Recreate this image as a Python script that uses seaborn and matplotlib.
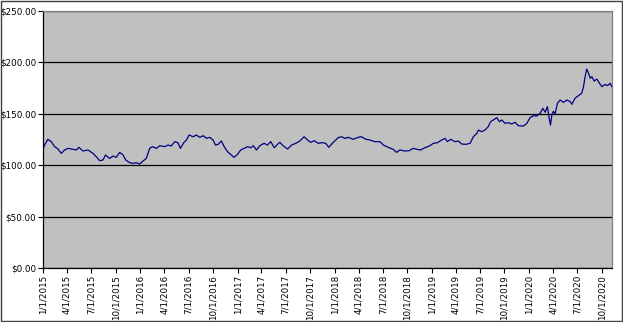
import matplotlib
matplotlib.use("Agg")
import matplotlib.pyplot as plt
import matplotlib.dates as mdates
from matplotlib.ticker import FuncFormatter
from matplotlib.patches import Rectangle
import seaborn as sns
import pandas as pd

dates = [
    "2015-01-01", "2015-01-07", "2015-01-19", "2015-02-01", "2015-02-14", "2015-02-26",
    "2015-03-11", "2015-03-23", "2015-04-05", "2015-04-24", "2015-05-06", "2015-05-16",
    "2015-05-31", "2015-06-19", "2015-07-08", "2015-07-20", "2015-08-02", "2015-08-14",
    "2015-08-24", "2015-09-08", "2015-09-21", "2015-10-03", "2015-10-16", "2015-10-29",
    "2015-11-08", "2015-11-23", "2015-12-05", "2015-12-18", "2015-12-30", "2016-01-12",
    "2016-01-24", "2016-02-06", "2016-02-16", "2016-03-02", "2016-03-15", "2016-04-02",
    "2016-04-15", "2016-04-27", "2016-05-10", "2016-05-22", "2016-05-31", "2016-06-13",
    "2016-06-23", "2016-07-03", "2016-07-18", "2016-07-30", "2016-08-12", "2016-08-25",
    "2016-09-06", "2016-09-19", "2016-10-01", "2016-10-10", "2016-10-20", "2016-11-01",
    "2016-11-12", "2016-11-24", "2016-12-09", "2016-12-19", "2017-01-01", "2017-01-13",
    "2017-01-26", "2017-02-07", "2017-02-20", "2017-03-01", "2017-03-13", "2017-03-26",
    "2017-04-11", "2017-04-23", "2017-05-06", "2017-05-19", "2017-05-31", "2017-06-09",
    "2017-06-21", "2017-07-08", "2017-07-23", "2017-08-08", "2017-08-23", "2017-09-08",
    "2017-09-21", "2017-10-03", "2017-10-16", "2017-10-31", "2017-11-15", "2017-11-28",
    "2017-12-10", "2017-12-23", "2018-01-14", "2018-01-27", "2018-02-08", "2018-02-21",
    "2018-03-12", "2018-03-30", "2018-04-12", "2018-04-25", "2018-05-13", "2018-06-01",
    "2018-06-20", "2018-07-03", "2018-07-21", "2018-08-09", "2018-08-22", "2018-09-03",
    "2018-09-22", "2018-10-08", "2018-10-23", "2018-11-07", "2018-11-20", "2018-12-06",
    "2018-12-23", "2019-01-07", "2019-01-22", "2019-02-07", "2019-02-20", "2019-02-28",
    "2019-03-13", "2019-03-29", "2019-04-11", "2019-04-23", "2019-05-10", "2019-05-25",
    "2019-06-06", "2019-06-19", "2019-06-25", "2019-07-07", "2019-07-20", "2019-08-01",
    "2019-08-10", "2019-08-20", "2019-09-02", "2019-09-12", "2019-09-21", "2019-10-03",
    "2019-10-16", "2019-10-28", "2019-11-10", "2019-11-22", "2019-12-11", "2019-12-24",
    "2020-01-05", "2020-01-18", "2020-01-30", "2020-02-12", "2020-02-22", "2020-03-02",
    "2020-03-10", "2020-03-18", "2020-03-22", "2020-03-27", "2020-04-02", "2020-04-08",
    "2020-04-17", "2020-04-27", "2020-05-10", "2020-05-22", "2020-06-04", "2020-06-10",
    "2020-06-22", "2020-07-05", "2020-07-17", "2020-07-24", "2020-07-30", "2020-08-05",
    "2020-08-12", "2020-08-18", "2020-08-24", "2020-09-02", "2020-09-12", "2020-09-22",
    "2020-10-01", "2020-10-13", "2020-10-22", "2020-11-01", "2020-11-07",
]

values = [
    116.0, 119.6, 125.2, 122.9, 118.0, 115.8,
    111.5, 114.8, 116.4, 115.4, 114.8, 117.4,
    113.8, 114.8, 111.5, 108.3, 104.4, 105.0,
    109.9, 106.6, 108.9, 107.6, 112.5, 109.9,
    105.0, 102.4, 101.8, 102.4, 101.1, 104.1,
    106.6, 116.4, 118.0, 116.4, 119.0, 118.0,
    119.6, 118.7, 122.9, 121.9, 116.4, 121.9,
    124.5, 129.4, 127.7, 129.4, 127.1, 128.7,
    126.1, 127.1, 124.5, 119.6, 120.3, 123.5,
    118.0, 113.2, 109.9, 107.6, 110.6, 114.8,
    116.4, 118.0, 117.0, 119.0, 114.8, 119.0,
    121.3, 119.6, 122.9, 117.0, 120.3, 122.2,
    119.0, 115.8, 119.6, 121.3, 123.5, 127.7,
    124.5, 122.2, 123.8, 121.3, 121.9, 121.3,
    117.4, 121.3, 126.8, 127.7, 126.1, 127.1,
    125.2, 127.1, 127.7, 125.5, 124.5, 122.9,
    122.9, 119.6, 117.4, 115.4, 112.5, 114.8,
    113.8, 114.1, 116.4, 115.4, 114.8, 117.0,
    118.7, 121.3, 121.9, 124.5, 126.1, 122.9,
    125.2, 122.9, 123.5, 120.6, 120.3, 121.3,
    127.7, 131.0, 134.2, 132.6, 134.2, 137.5,
    142.3, 144.0, 146.2, 142.3, 144.0, 140.7,
    141.4, 140.1, 141.7, 138.4, 138.1, 140.7,
    146.2, 148.2, 147.8, 150.5, 155.3, 151.5,
    157.0, 144.0, 139.1, 149.2, 152.4, 149.8,
    160.2, 163.4, 161.1, 163.4, 161.8, 159.2,
    165.1, 167.7, 169.9, 176.4, 186.1, 193.6,
    189.4, 184.5, 186.1, 181.9, 183.8, 179.7,
    176.4, 178.6, 177.4, 179.7, 176.4,
]

tick_dates = [
    "2015-01-01", "2015-04-01", "2015-07-01", "2015-10-01",
    "2016-01-01", "2016-04-01", "2016-07-01", "2016-10-01",
    "2017-01-01", "2017-04-01", "2017-07-01", "2017-10-01",
    "2018-01-01", "2018-04-01", "2018-07-01", "2018-10-01",
    "2019-01-01", "2019-04-01", "2019-07-01", "2019-10-01",
    "2020-01-01", "2020-04-01", "2020-07-01", "2020-10-01",
]
tick_labels = [
    "1/1/2015", "4/1/2015", "7/1/2015", "10/1/2015",
    "1/1/2016", "4/1/2016", "7/1/2016", "10/1/2016",
    "1/1/2017", "4/1/2017", "7/1/2017", "10/1/2017",
    "1/1/2018", "4/1/2018", "7/1/2018", "10/1/2018",
    "1/1/2019", "4/1/2019", "7/1/2019", "10/1/2019",
    "1/1/2020", "4/1/2020", "7/1/2020", "10/1/2020",
]
y_ticks = [0, 50, 100, 150, 200, 250]
x_start, x_end = "2015-01-01", "2020-11-08"

df = pd.DataFrame({"date": pd.to_datetime(dates), "value": values})

plt.rcParams["font.family"] = ["DejaVu Sans"]
fig = plt.figure(figsize=(6.23, 3.22), dpi=100, facecolor="white")
ax = fig.add_axes([43 / 623, 1 - 268 / 322, (612 - 43) / 623, (268 - 11) / 322])
ax.set_facecolor("#C0C0C0")

sns.lineplot(data=df, x="date", y="value", ax=ax, color="#000080", linewidth=0.9)

ax.set_ylim(0, 250)
ax.set_yticks(y_ticks)
ax.yaxis.set_major_formatter(FuncFormatter(lambda v, p: f"${v:,.2f}"))
ax.set_xlim(pd.Timestamp(x_start), pd.Timestamp(x_end))
ax.set_xticks(pd.to_datetime(tick_dates))
ax.set_xticklabels(tick_labels, rotation=90)
ax.grid(axis="y", color="black", linewidth=0.9)
ax.grid(axis="x", visible=False)
ax.set_axisbelow(True)
ax.set_xlabel("")
ax.set_ylabel("")
ax.tick_params(axis="both", labelsize=6.3, colors="black", length=3.5, width=0.8, pad=1.5)

for s in ["left", "bottom"]:
    ax.spines[s].set_color("black")
    ax.spines[s].set_linewidth(0.9)
for s in ["top", "right"]:
    ax.spines[s].set_color("#808080")
    ax.spines[s].set_linewidth(0.9)

fig.patches.append(Rectangle((0.001, 0.002), 0.997, 0.995, transform=fig.transFigure,
                             fill=False, edgecolor="#404040", linewidth=1.0))

fig.savefig("out.png", dpi=100, facecolor="white")
